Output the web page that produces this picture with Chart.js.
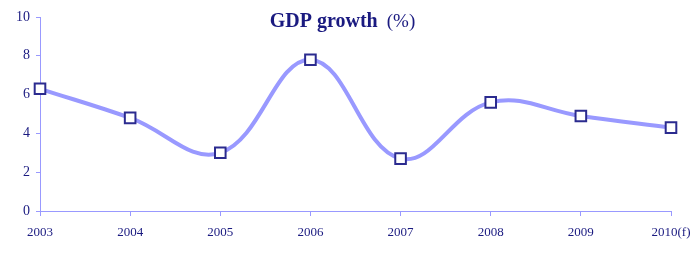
<!DOCTYPE html>
<html>
<head>
<meta charset="utf-8">
<script src="https://cdn.jsdelivr.net/npm/chart.js@4/dist/chart.umd.min.js"></script>
<style>
html,body{margin:0;padding:0;background:#fff;}
#wrap{width:691px;height:253px;position:relative;}
</style>
</head>
<body>
<div id="wrap"><canvas id="c" width="691" height="253"></canvas></div>
<script>
const categories = ["2003","2004","2005","2006","2007","2008","2009","2010(f)"];
const gdpGrowth = [6.3, 4.8, 3.0, 7.8, 2.7, 5.6, 4.9, 4.3];
const titleText = "GDP growth";
const titleUnit = "(%)";

const navy = "#1a1a80";
const axisColor = "#9999ff";
const font = "'Liberation Serif', 'Times New Roman', serif";

const titlePlugin = {
  id: 'overlayTitle',
  afterDraw(chart) {
    const ctx = chart.ctx;
    ctx.save();
    ctx.fillStyle = navy;
    ctx.textBaseline = 'middle';
    ctx.font = "bold 20px " + font;
    const w1 = ctx.measureText(titleText).width;
    ctx.font = "19px " + font;
    const w2 = ctx.measureText(titleUnit).width;
    const gap = 9;
    const total = w1 + gap + w2;
    const cx = (chart.chartArea.left + chart.chartArea.right) / 2 - 13;
    const x = cx - total / 2;
    ctx.textAlign = 'left';
    ctx.font = "bold 20px " + font;
    ctx.fillText(titleText, x, 22);
    ctx.font = "19px " + font;
    ctx.fillText(titleUnit, x + w1 + gap, 22);
    ctx.restore();
  }
};

new Chart(document.getElementById('c'), {
  type: 'line',
  data: {
    labels: categories,
    datasets: [{
      data: gdpGrowth,
      borderColor: '#9999ff',
      borderWidth: 4,
      tension: 0.4,
      pointStyle: 'rect',
      pointRadius: 7.5,
      pointHoverRadius: 7.5,
      pointBorderColor: '#2b2b8f',
      pointBackgroundColor: '#ffffff',
      pointBorderWidth: 2,
      fill: false
    }]
  },
  options: {
    responsive: false,
    animation: false,
    devicePixelRatio: 1,
    layout: { padding: { top: 17, right: 20, left: 0, bottom: 0 } },
    plugins: { legend: { display: false }, tooltip: { enabled: false } },
    scales: {
      x: {
        offset: false,
        grid: { display: true, drawOnChartArea: false, drawTicks: true, tickLength: 5, color: axisColor },
        border: { color: axisColor, width: 1 },
        ticks: { color: navy, font: { family: font, size: 13 }, padding: 9, maxRotation: 0, autoSkip: false },
        afterFit(s) { s.paddingLeft = 0; s.paddingRight = 0; s.height = 42; }
      },
      y: {
        min: 0, max: 10,
        grid: { display: true, drawOnChartArea: false, drawTicks: true, tickLength: 4, color: axisColor },
        border: { color: axisColor, width: 1 },
        ticks: { stepSize: 2, color: navy, font: { family: font, size: 14 }, padding: 6 },
        afterFit(s) { s.width = 40; s.paddingTop = 0; s.paddingBottom = 0; }
      }
    }
  },
  plugins: [titlePlugin]
});
</script>
</body>
</html>
